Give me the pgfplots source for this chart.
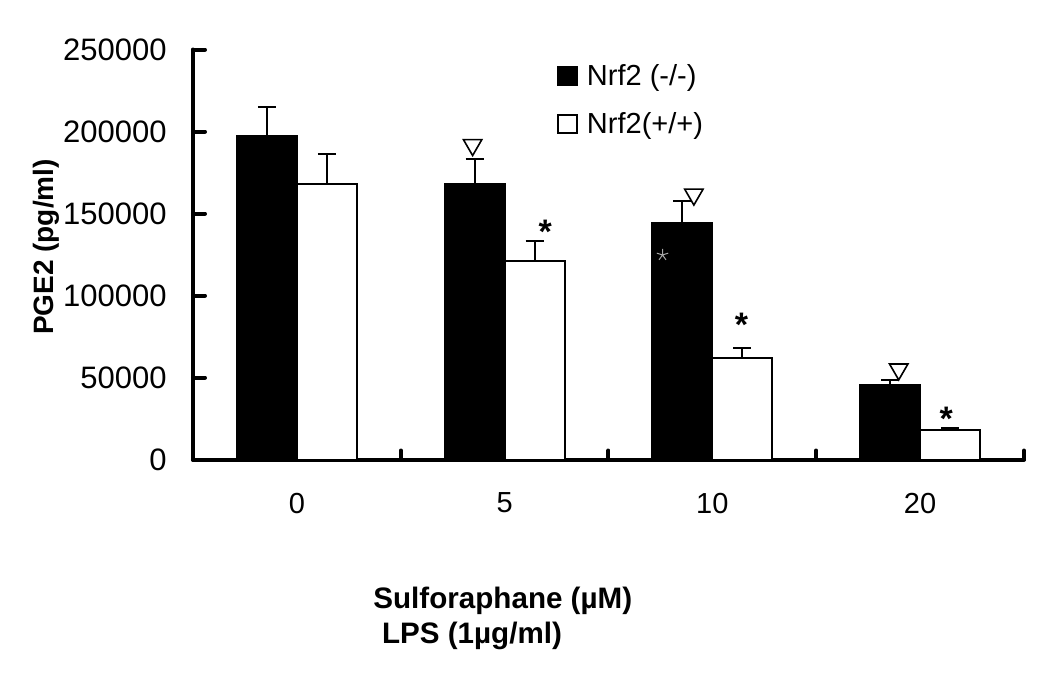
\documentclass[border=0pt]{standalone}
\usepackage{fontspec}
\setmainfont{Liberation Sans}
\usepackage{pgfplots}
\pgfplotsset{compat=1.18}
\usepackage{pgfplotstable}
\usetikzlibrary{plotmarks}

\pgfplotstableread{
x y e
0 197000 18000
1 168000 15000
2 144000 13500
3 45500 2700
}\knockout
\pgfplotstableread{
x y e
0 168000 18500
1 121000 12000
2 62000 6000
3 18000 1400
}\wildtype

\newcommand{\fs}{\fontsize{14.5}{17}\selectfont}

\begin{document}
\begin{tikzpicture}
\useasboundingbox (-96.5pt,-115.75pt) rectangle (428.5pt,229.75pt);
\begin{axis}[
  at={(0pt,0pt)}, anchor=south west,
  scale only axis, width=415.5pt, height=205pt,
  xmin=-0.5, xmax=3.5, ymin=0, ymax=250000,
  axis lines=left,
  axis line style={-, line width=2pt, line cap=round},
  xtick={0,1,2,3}, xticklabels={0,5,10,20},
  minor xtick={0.5,1.5,2.5,3.5},
  ytick={0,50000,...,250000},
  scaled y ticks=false,
  yticklabel style={/pgf/number format/fixed, /pgf/number format/1000 sep={}, /pgf/number format/assume math mode=true, inner sep=0pt, xshift=-13pt, font=\fontsize{15.5}{18}\selectfont},
  xticklabel style={/pgf/number format/assume math mode=true, inner sep=0pt, yshift=-16.5pt, font=\fs},
  tick align=inside,
  major tick length=6pt, minor tick length=4.5pt,
  every tick/.style={line width=2pt, line cap=round, black},
  major x tick style={draw=none},
  legend style={draw=none, fill=none, at={(0.438,0.975)}, anchor=north west, font=\fs, row sep=8pt, inner sep=0pt, /tikz/every odd column/.append style={column sep=2.5pt}},
  legend image code/.code={\draw[#1, line width=0.8pt] (0pt,-4.5pt) rectangle (9.5pt,4.5pt);},
  legend cell align=left,
  clip=false,
]
\addplot[ybar, bar width=0.2888, bar shift=0pt, fill=black, draw=black, line width=1pt,
  error bars/.cd, y dir=plus, y explicit, error mark=-,
  error bar style={line width=1pt, black},
  error mark options={rotate=90, line width=1pt, mark size=4.5pt, black}]
  table[x expr=\thisrow{x}-0.1444, y=y, y error=e] {\knockout};
\addlegendentry{Nrf2 (-/-)}
\addplot[ybar, bar width=0.2888, bar shift=0pt, fill=white, draw=black, line width=1pt,
  error bars/.cd, y dir=plus, y explicit, error mark=-,
  error bar style={line width=1pt, black},
  error mark options={rotate=90, line width=1pt, mark size=4.5pt, black}]
  table[x expr=\thisrow{x}+0.1444, y=y, y error=e] {\wildtype};
\addlegendentry{Nrf2(+/+)}
% open triangles
\addplot[only marks, mark=triangle, mark size=5.3pt, mark options={rotate=180, line width=0.8pt, fill=white, draw=black}, forget plot]
  coordinates {(0.846,191800) (1.911,161600) (2.897,55000)};
% asterisks
\addplot[only marks, mark=text, text mark={*}, text mark as node=true,
  text mark style={font=\bfseries\fontsize{17}{17}\selectfont, inner sep=0pt, anchor=center}, forget plot]
  coordinates {(1.195,139000) (2.140,82000) (3.126,25100)};
% faint star inside bar
\addplot[only marks, mark=star, mark size=3pt, mark options={gray!70, line width=0.5pt}, forget plot]
  coordinates {(1.760,124700)};
\end{axis}
\node[rotate=90, anchor=base, font=\bfseries\fontsize{14}{17}\selectfont] at (-69.5pt,106.25pt) {PGE2 (pg/ml)};
\node[anchor=base west, inner sep=0pt, font=\bfseries\fontsize{14.8}{17}\selectfont] at (90pt,-74.25pt) {Sulforaphane (µM)};
\node[anchor=base west, inner sep=0pt, font=\bfseries\fontsize{14.8}{17}\selectfont] at (94.35pt,-91.75pt) {LPS (1µg/ml)};
\end{tikzpicture}
\end{document}
